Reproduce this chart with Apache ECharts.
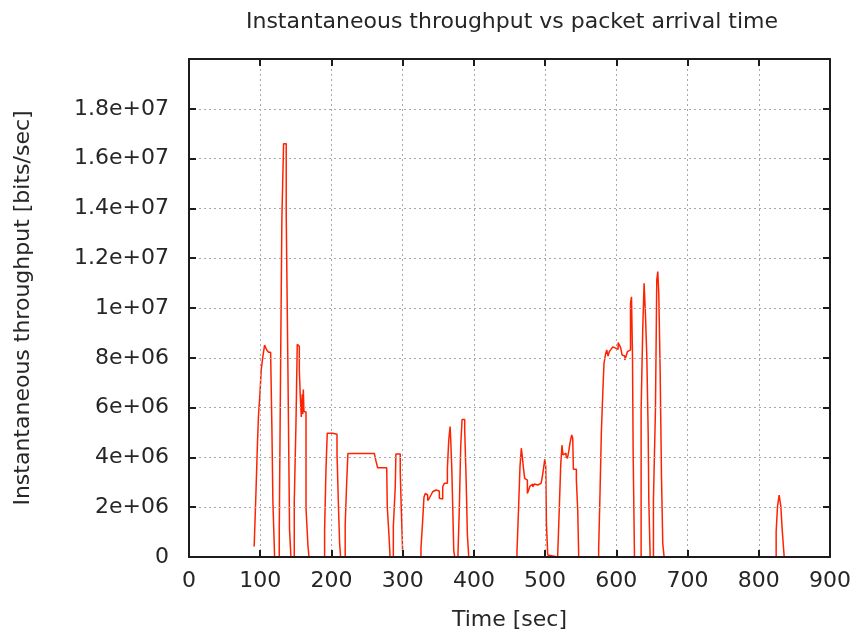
<!DOCTYPE html>
<html>
<head>
<meta charset="utf-8">
<script src="https://cdn.jsdelivr.net/npm/echarts@6/dist/echarts.min.js"></script>
<style>
  html, body { margin: 0; padding: 0; background: #ffffff; }
  #chart { width: 855px; height: 636px; }
</style>
</head>
<body>
<div id="chart"></div>
<script>
// Packet arrival time [sec]
const arrivalTime = [
  91.5, 93.9, 96.2, 97.6, 99.5, 101.4, 103.7, 106.1, 108.9, 111.7, 114.6, 116.4, 117.8, 120.2,
  126.7, 128.5, 130.4, 132.8, 136.5, 138.9, 141.2, 143.1,
  147.8, 150.2, 152.0, 153.5, 154.9, 156.3, 157.7, 159.0, 159.8, 160.5, 161.4, 162.4, 164.3, 167.1, 168.5,
  190.4, 192.3, 194.1, 201.7, 207.8, 209.6, 211.5, 212.9,
  219.3, 221.2, 223.1, 260.2, 262.5, 264.9, 277.6, 278.4, 280.9, 282.3,
  286.9, 289.6, 290.5, 296.6, 298.1, 299.9, 301.3,
  325.7, 328.0, 329.9, 331.8, 333.7, 335.1, 337.4, 339.8, 342.1, 344.5, 346.8, 349.2, 351.5, 353.9,
  356.2, 358.6, 360.9, 362.8, 364.7, 366.6, 367.5, 368.9, 370.3, 371.7, 373.1,
  377.7, 379.6, 381.5, 383.4, 387.1, 389.0, 390.9, 392.8,
  460.5, 462.8, 464.7, 466.6, 468.0, 469.4, 471.3, 473.2, 475.1, 476.9, 478.8, 480.7, 482.6, 484.9,
  487.3, 489.6, 492.0, 494.3, 495.7, 497.6, 499.5, 500.9, 501.8, 503.7, 505.1,
  517.6, 520.0, 521.9, 523.7, 525.1, 527.0, 529.4, 531.3, 533.1, 534.5, 535.9, 537.4, 538.8, 539.7,
  543.9, 545.8, 547.2,
  575.2, 577.1, 579.0, 581.3, 582.7, 584.6, 586.5, 588.4, 590.2, 592.6, 594.9, 596.8, 598.7, 600.6,
  602.5, 604.4, 606.2, 608.1, 610.0, 611.9, 613.8, 615.6, 617.5, 619.9, 621.3, 622.7, 623.6, 625.5,
  634.8, 637.1, 639.0, 640.9, 642.8, 644.7, 645.6, 647.5,
  652.1, 654.9, 656.8, 658.2, 659.6, 661.5, 663.4, 665.2, 667.1,
  824.4, 826.3, 828.6, 831.0, 832.9, 835.7
];

// Instantaneous throughput [bits/sec]
const throughput = [
  0.42e6, 2.49e6, 4.63e6, 5.70e6, 6.50e6, 7.51e6, 8.05e6, 8.51e6, 8.32e6, 8.22e6, 8.18e6, 5.17e6, 2.22e6, 0,
  1.02e6, 7.31e6, 13.56e6, 16.6e6, 13.76e6, 7.51e6, 1.09e6, 0,
  2.22e6, 5.37e6, 8.54e6, 8.46e6, 7.51e6, 6.43e6, 5.62e6, 6.53e6, 5.74e6, 6.73e6, 5.84e6, 5.82e6, 1.95e6, 0.42e6, 0,
  1.09e6, 3.49e6, 4.97e6, 4.93e6, 4.16e6, 2.28e6, 0.54e6, 0,
  1.29e6, 2.84e6, 4.16e6, 4.11e6, 3.86e6, 3.58e6, 3.58e6, 2.02e6, 0.82e6, 0,
  1.22e6, 2.82e6, 4.14e6, 3.43e6, 1.88e6, 0.27e6, 0,
  0.35e6, 1.42e6, 2.40e6, 2.55e6, 2.49e6, 2.27e6, 2.36e6, 2.49e6, 2.62e6, 2.69e6, 2.72e6, 2.65e6, 2.36e6, 2.33e6,
  2.82e6, 2.96e6, 2.96e6, 3.56e6, 4.70e6, 5.24e6, 4.70e6, 3.62e6, 2.02e6, 0.28e6, 0,
  0.15e6, 2.02e6, 4.44e6, 5.52e6, 5.10e6, 3.23e6, 0.88e6, 0,
  0.22e6, 2.02e6, 3.62e6, 4.37e6, 4.03e6, 3.62e6, 3.16e6, 3.09e6, 2.55e6, 2.69e6, 2.85e6, 2.93e6, 2.82e6, 2.93e6,
  2.89e6, 2.85e6, 2.96e6, 3.03e6, 3.16e6, 3.52e6, 3.92e6, 3.62e6, 1.36e6, 0.08e6, 0,
  0.08e6, 2.02e6, 3.69e6, 4.49e6, 4.10e6, 4.17e6, 4.06e6, 3.96e6, 4.23e6, 4.49e6, 4.72e6, 4.90e6, 4.76e6, 3.52e6,
  3.09e6, 1.88e6, 0,
  0.35e6, 2.58e6, 5.03e6, 6.84e6, 7.78e6, 8.11e6, 8.32e6, 8.07e6, 8.25e6, 8.34e6, 8.44e6, 8.39e6, 8.44e6, 8.34e6,
  8.61e6, 8.51e6, 8.39e6, 8.11e6, 8.07e6, 7.91e6, 8.07e6, 8.25e6, 8.32e6, 10.19e6, 10.45e6, 8.05e6, 4.19e6, 0,
  5.90e6, 9.19e6, 10.99e6, 9.72e6, 8.05e6, 5.03e6, 2.29e6, 0,
  2.29e6, 5.90e6, 11.13e6, 11.46e6, 10.59e6, 7.51e6, 3.23e6, 0.54e6, 0,
  1.02e6, 2.02e6, 2.49e6, 2.02e6, 1.09e6, 0
];

const xTickLabels = ['0', '100', '200', '300', '400', '500', '600', '700', '800', '900'];
const yTickLabels = ['0', '2e+06', '4e+06', '6e+06', '8e+06', '1e+07', '1.2e+07', '1.4e+07', '1.6e+07', '1.8e+07', ''];

const FONT = 'DejaVu Sans';
const TEXT = '#262626';

const points = arrivalTime.map((t, i) => [t, throughput[i]]);

const gridDots = { show: true, lineStyle: { color: '#a8a8a8', width: 1, type: [2, 3] } };
const frameLine = { show: true, onZero: false, lineStyle: { color: '#1c1c1c', width: 2 } };
const innerTicks = { show: true, inside: true, length: 7, lineStyle: { color: '#1c1c1c', width: 2 } };

const chart = echarts.init(document.getElementById('chart'), null, { renderer: 'canvas' });
chart.setOption({
  animation: false,
  backgroundColor: '#ffffff',
  title: {
    text: 'Instantaneous throughput vs packet arrival time',
    left: 507,
    textAlign: 'center',
    top: 6,
    textStyle: { fontFamily: FONT, fontSize: 22, fontWeight: 'normal', color: TEXT }
  },
  grid: { left: 189, right: 25, top: 59, bottom: 79 },
  xAxis: [
    {
      type: 'value', position: 'bottom', min: 0, max: 900, interval: 100, z: 5,
      name: 'Time [sec]', nameLocation: 'middle', nameGap: 52,
      nameTextStyle: { fontFamily: FONT, fontSize: 22, color: TEXT },
      axisLine: frameLine, axisTick: innerTicks,
      axisLabel: {
        margin: 13, fontFamily: FONT, fontSize: 22, color: TEXT,
        formatter: v => xTickLabels[Math.round(v / 100)]
      },
      splitLine: { show: false }
    },
    {
      type: 'value', position: 'top', min: 0, max: 900, interval: 100, z: 5,
      axisLine: frameLine, axisTick: innerTicks, axisLabel: { show: false },
      splitLine: gridDots
    }
  ],
  yAxis: [
    {
      type: 'value', position: 'left', min: 0, max: 2e7, interval: 2e6, z: 5,
      name: 'Instantaneous throughput [bits/sec]', nameLocation: 'middle', nameGap: 155, nameRotate: 90,
      nameTextStyle: { fontFamily: FONT, fontSize: 22, color: TEXT },
      axisLine: frameLine, axisTick: innerTicks,
      axisLabel: {
        margin: 20, fontFamily: FONT, fontSize: 22, color: TEXT,
        formatter: v => yTickLabels[Math.round(v / 2e6)]
      },
      splitLine: gridDots
    },
    {
      type: 'value', position: 'right', min: 0, max: 2e7, interval: 2e6, z: 5,
      axisLine: frameLine, axisTick: innerTicks, axisLabel: { show: false },
      splitLine: { show: false }
    }
  ],
  series: [
    {
      type: 'line',
      xAxisIndex: 0,
      yAxisIndex: 0,
      step: 'end',
      data: points,
      showSymbol: false,
      z: 2,
      lineStyle: { color: '#ff2200', width: 1.5 }
    }
  ]
});
</script>
</body>
</html>
